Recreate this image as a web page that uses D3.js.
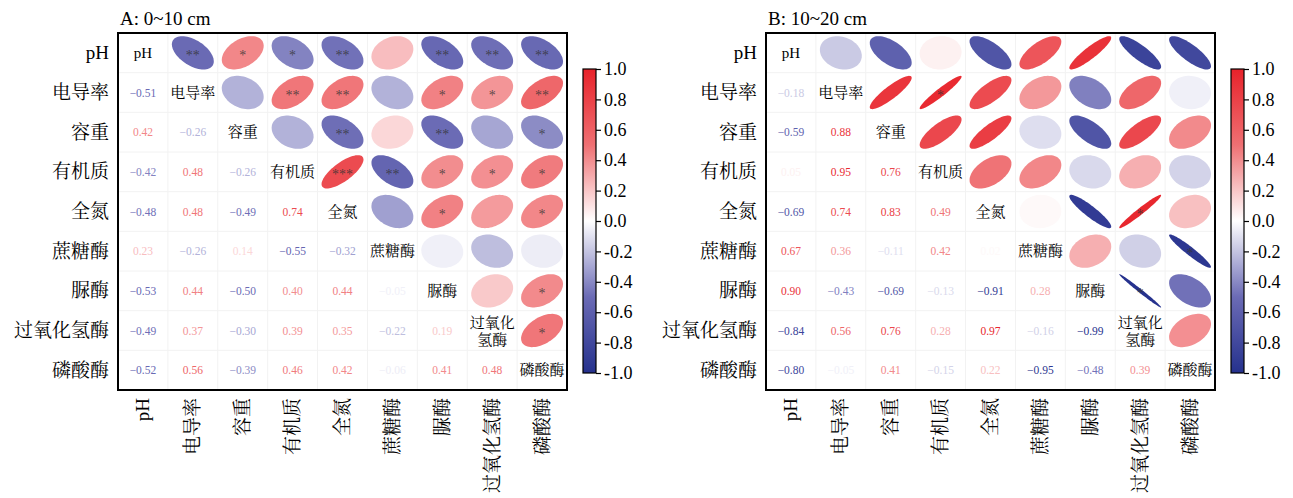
<!DOCTYPE html>
<html>
<head>
<meta charset="utf-8">
<script src="https://cdn.jsdelivr.net/npm/d3@7"></script>
<style>
body { margin: 0; background: #fff; }
</style>
</head>
<body>
<svg id="chart" width="1293" height="498"></svg>
<script>
// variables, same order for rows and columns
var vars = ["pH", "电导率", "容重", "有机质", "全氮", "蔗糖酶", "脲酶", "过氧化氢酶", "磷酸酶"];

// lower triangle, row i holds r with columns 0..i-1
var lowA = [
  [],
  [-0.51],
  [0.42, -0.26],
  [-0.42, 0.48, -0.26],
  [-0.48, 0.48, -0.49, 0.74],
  [0.23, -0.26, 0.14, -0.55, -0.32],
  [-0.53, 0.44, -0.50, 0.40, 0.44, -0.05],
  [-0.49, 0.37, -0.30, 0.39, 0.35, -0.22, 0.19],
  [-0.52, 0.56, -0.39, 0.46, 0.42, -0.06, 0.41, 0.48]
];

var lowB = [
  [],
  [-0.18],
  [-0.59, 0.88],
  [0.05, 0.95, 0.76],
  [-0.69, 0.74, 0.83, 0.49],
  [0.67, 0.36, -0.11, 0.42, 0.02],
  [0.90, -0.43, -0.69, -0.13, -0.91, 0.28],
  [-0.84, 0.56, 0.76, 0.28, 0.97, -0.16, -0.99],
  [-0.80, -0.05, 0.41, -0.15, 0.22, -0.95, -0.48, 0.39]
];

// significance marks, upper triangle, row i holds columns i+1..8
var starsA = [
  ["**", "*", "*", "**", "", "**", "**", "**"],
  ["", "**", "**", "", "*", "*", "**"],
  ["", "**", "", "**", "", "*"],
  ["***", "**", "*", "*", "*"],
  ["", "*", "", "*"],
  ["", "", ""],
  ["", "*"],
  ["*"]
];

var starsB = [
  ["", "", "", "", "", "", "", ""],
  ["", "*", "", "", "", "", ""],
  ["", "", "", "", "", ""],
  ["", "", "", "", ""],
  ["", "", "*", ""],
  ["", "", "*"],
  ["*", ""],
  [""]
];

var titles = ["A: 0~10 cm", "B: 10~20 cm"];
var barTicks = [1.0, 0.8, 0.6, 0.4, 0.2, 0.0, -0.2, -0.4, -0.6, -0.8, -1.0];

var serif = "'Liberation Serif', 'Times New Roman', serif";
var cjk = "'Liberation Serif', 'Noto Serif CJK SC', 'Noto Sans CJK SC', serif";

var color = d3.scaleLinear()
  .domain([-1, -0.5, 0, 0.5, 1])
  .range(["#25318d", "#6b6bb5", "#ffffff", "#ef7073", "#e8222a"]);

var fmt = d3.format(".2f");
var barFmt = d3.formatLocale({decimal: ".", thousands: ",", grouping: [3], currency: ["", ""], minus: "-"}).format(".1f");

var svg = d3.select("#chart");

var box = { top: 33, width: 449, height: 357 };

var ellipsePath = function(r, cx, cy, w, h)
{
  var d = Math.acos(r);
  var pts = d3.range(0, 72).map(function(i)
  {
    var k = i / 72 * 2 * Math.PI;
    return [cx + Math.cos(k + d / 2) * w / 2, cy - Math.cos(k - d / 2) * h / 2];
  });
  return d3.line().curve(d3.curveLinearClosed)(pts);
}

var drawPanel = function(low, stars, title, left, idx)
{
  var x = d3.scaleBand().domain(vars).range([left, left + box.width]);
  var y = d3.scaleBand().domain(vars).range([box.top, box.top + box.height]);
  var cw = x.bandwidth(), ch = y.bandwidth();

  var g = svg.append("g");

  // faint cell grid
  g.append("g").selectAll("line.v")
    .data(vars.slice(1))
    .join("line")
      .attr("x1", d => x(d)).attr("x2", d => x(d))
      .attr("y1", box.top).attr("y2", box.top + box.height)
      .attr("stroke", "#f2f2f2").attr("stroke-width", 1);
  g.append("g").selectAll("line.h")
    .data(vars.slice(1))
    .join("line")
      .attr("y1", d => y(d)).attr("y2", d => y(d))
      .attr("x1", left).attr("x2", left + box.width)
      .attr("stroke", "#f2f2f2").attr("stroke-width", 1);

  var cells = [];
  vars.forEach(function(rv, i)
  {
    vars.forEach(function(cv, j)
    {
      if (i > j) cells.push({type: "num", row: rv, col: cv, r: low[i][j]});
      else if (i < j) cells.push({type: "ell", row: rv, col: cv, r: low[j][i], star: stars[i][j - i - 1]});
    });
  });

  // ellipses
  g.append("g").selectAll("path")
    .data(cells.filter(c => c.type == "ell"))
    .join("path")
      .attr("d", c => ellipsePath(c.r, x(c.col) + cw / 2, y(c.row) + ch / 2, cw * 0.84, ch * 0.84))
      .attr("fill", c => color(c.r));

  // stars
  g.append("g").selectAll("text")
    .data(cells.filter(c => c.type == "ell" && c.star))
    .join("text")
      .attr("x", c => x(c.col) + cw / 2)
      .attr("y", c => y(c.row) + ch / 2 + 7)
      .attr("text-anchor", "middle")
      .attr("font-family", serif)
      .attr("font-size", 14)
      .attr("fill", "#333")
      .attr("fill-opacity", 0.8)
      .text(c => c.star);

  // numbers
  g.append("g").selectAll("text")
    .data(cells.filter(c => c.type == "num"))
    .join("text")
      .attr("x", c => x(c.col) + cw / 2)
      .attr("y", c => y(c.row) + ch / 2)
      .attr("text-anchor", "middle")
      .attr("dominant-baseline", "central")
      .attr("font-family", serif)
      .attr("font-size", 11.5)
      .attr("fill", c => color(c.r))
      .text(c => fmt(c.r));

  // diagonal labels
  var diag = g.append("g").selectAll("text")
    .data(vars)
    .join("text")
      .attr("x", d => x(d) + cw / 2)
      .attr("y", d => y(d) + ch / 2)
      .attr("text-anchor", "middle")
      .attr("dominant-baseline", "central")
      .attr("font-family", cjk)
      .attr("font-size", 15)
      .attr("fill", "#000");
  diag.each(function(d)
  {
    var t = d3.select(this);
    if (d.length > 4)
    {
      t.append("tspan").attr("x", x(d) + cw / 2).attr("dy", "-0.5em").text(d.slice(0, 3));
      t.append("tspan").attr("x", x(d) + cw / 2).attr("dy", "1.1em").text(d.slice(3));
    }
    else t.text(d);
  });

  // frame
  g.append("rect")
    .attr("x", left).attr("y", box.top)
    .attr("width", box.width).attr("height", box.height)
    .attr("fill", "none").attr("stroke", "#000").attr("stroke-width", 2);

  // row labels
  g.append("g").selectAll("text")
    .data(vars)
    .join("text")
      .attr("x", left - 9)
      .attr("y", d => y(d) + ch / 2)
      .attr("text-anchor", "end")
      .attr("dominant-baseline", "central")
      .attr("font-family", cjk)
      .attr("font-size", 19)
      .text(d => d);

  // column labels
  g.append("g").selectAll("text")
    .data(vars)
    .join("text")
      .attr("transform", d => "translate(" + (x(d) + cw / 2) + "," + (box.top + box.height + 8) + ") rotate(-90)")
      .attr("text-anchor", "end")
      .attr("dominant-baseline", "central")
      .attr("font-family", cjk)
      .attr("font-size", 19)
      .text(d => d);

  // title
  g.append("text")
    .attr("x", left + 2)
    .attr("y", 25)
    .attr("font-family", serif)
    .attr("font-size", 19)
    .text(title);

  // colour bar
  var barX = left + box.width + 16, barW = 13;
  var yBar = d3.scaleLinear().domain([-1, 1]).range([373, 69]);
  var grad = svg.append("defs").append("linearGradient")
    .attr("id", "grad" + idx)
    .attr("x1", "0").attr("y1", "1").attr("x2", "0").attr("y2", "0");
  grad.selectAll("stop")
    .data(d3.range(0, 21).map(i => -1 + i / 10))
    .join("stop")
      .attr("offset", d => (d + 1) / 2)
      .attr("stop-color", d => color(d));
  g.append("rect")
    .attr("x", barX).attr("y", yBar(1))
    .attr("width", barW).attr("height", yBar(-1) - yBar(1))
    .attr("fill", "url(#grad" + idx + ")")
    .attr("stroke", "#000").attr("stroke-width", 1.2);
  var axis = g.append("g")
    .attr("transform", "translate(" + (barX + barW) + ",0)")
    .call(d3.axisRight(yBar).tickValues(barTicks).tickSize(5).tickSizeOuter(0).tickPadding(3).tickFormat(barFmt));
  axis.select(".domain").remove();
  axis.selectAll("line").attr("stroke", "#000").attr("stroke-width", 1.2);
  axis.selectAll("text")
    .attr("font-family", serif)
    .attr("font-size", 18)
    .attr("fill", "#000");
}

drawPanel(lowA, starsA, titles[0], 118, 0);
drawPanel(lowB, starsB, titles[1], 766, 1);
</script>
</body>
</html>
